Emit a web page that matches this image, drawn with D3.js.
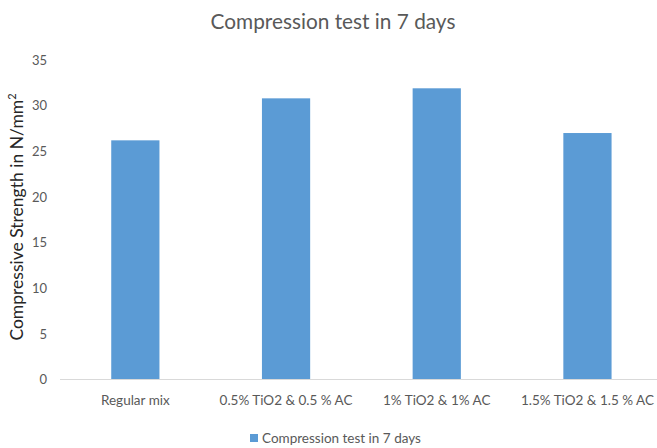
<!DOCTYPE html>
<html>
<head>
<meta charset="utf-8">
<script src="https://cdn.jsdelivr.net/npm/d3@7"></script>
<style>
  html, body { margin: 0; padding: 0; background: #fff; }
  svg { display: block; font-family: Lato, "Open Sans", sans-serif; }
</style>
</head>
<body>
<svg id="chart" width="657" height="448"></svg>
<script>
// Compressive strength after 7 days for each mix
const categories = ["Regular mix", "0.5% TiO2 & 0.5 % AC", "1% TiO2 & 1% AC", "1.5% TiO2 & 1.5 % AC"];
const strengths = [26.2, 30.8, 31.9, 27.0];
const yTicks = [0, 5, 10, 15, 20, 25, 30, 35];
const seriesName = "Compression test in 7 days";
const chartTitle = "Compression test in 7 days";

const svg = d3.select("#chart");
const textColor = "#595959";
const barColor = "#5b9bd5";

const x = d3.scaleBand()
  .domain(categories)
  .range([60, 662.8])
  .paddingInner(0.68)
  .paddingOuter(0.34);

const y = d3.scaleLinear()
  .domain([0, 35])
  .range([379.5, 60]);

// Title
svg.append("text")
  .attr("x", 333)
  .attr("y", 29)
  .attr("text-anchor", "middle")
  .attr("font-size", 20.8)
  .attr("fill", textColor)
  .text(chartTitle);

// Bars
svg.append("g")
  .selectAll("rect")
  .data(categories.map((c, i) => ({ c, v: strengths[i] })))
  .join("rect")
  .attr("x", d => x(d.c))
  .attr("y", d => y(d.v))
  .attr("width", x.bandwidth())
  .attr("height", d => y(0) - y(d.v))
  .attr("fill", barColor);

// Y axis (labels only)
const yAxis = d3.axisLeft(y).tickValues(yTicks).tickSize(0).tickPadding(0);
const gy = svg.append("g")
  .attr("transform", "translate(47,0)")
  .call(yAxis);
gy.select(".domain").remove();
gy.selectAll("text")
  .attr("font-family", "Lato, 'Open Sans', sans-serif")
  .attr("font-size", 13)
  .attr("fill", textColor);

// X axis baseline and category labels
const xAxis = d3.axisBottom(x).tickSize(0).tickPadding(16);
const gx = svg.append("g")
  .attr("transform", `translate(0,${y(0)})`)
  .call(xAxis);
gx.select(".domain").attr("stroke", "#d9d9d9").attr("d", "M60,0H657");
gx.selectAll("text")
  .attr("font-family", "Lato, 'Open Sans', sans-serif")
  .attr("font-size", 13.5)
  .attr("fill", textColor);

// Y axis title
const yt = svg.append("text")
  .attr("transform", "translate(23,217) rotate(-90)")
  .attr("text-anchor", "middle")
  .attr("font-size", 17.5)
  .attr("fill", "#262626");
yt.append("tspan").text("Compressive Strength in N/mm");
yt.append("tspan").attr("font-size", 11).attr("dy", -7).text("2");

// Legend
const lg = svg.append("g").attr("transform", "translate(250,438)");
lg.append("rect").attr("x", 0).attr("y", -4).attr("width", 8).attr("height", 8).attr("fill", barColor);
lg.append("text")
  .attr("x", 12)
  .attr("y", 4.5)
  .attr("font-size", 13.5)
  .attr("fill", textColor)
  .text(seriesName);
</script>
</body>
</html>
